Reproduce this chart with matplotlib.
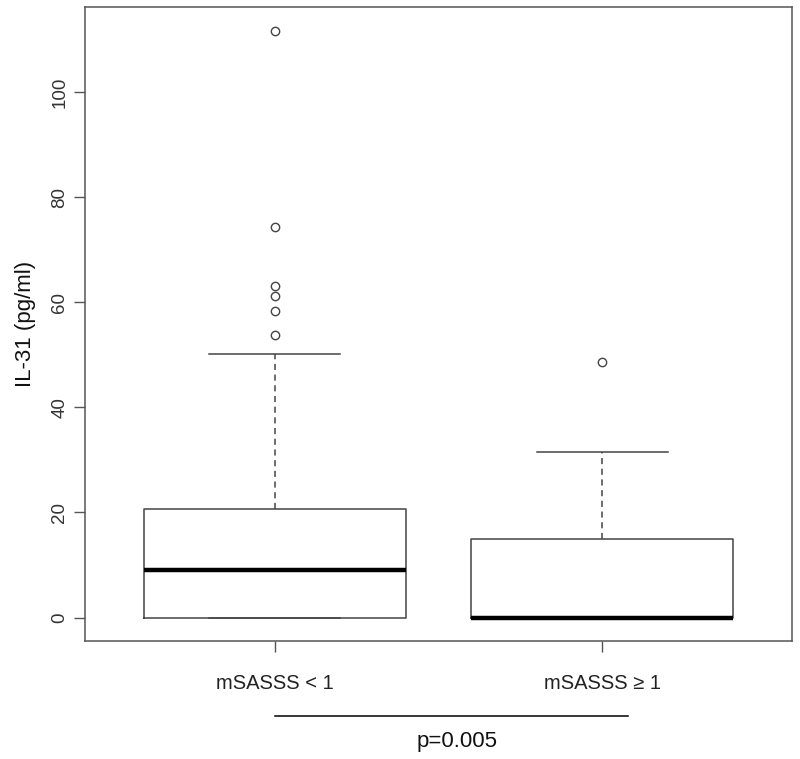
import matplotlib
matplotlib.use("Agg")
from matplotlib import pyplot as plt
import matplotlib.transforms as mtransforms

plt.rcParams['font.family'] = ['Liberation Sans', 'DejaVu Sans']

# values
groups = ['mSASSS < 1', 'mSASSS \u2265 1']
q1 = [0.0, 0.0]
median = [9.05, 0.0]
q3 = [20.7, 15.0]
whisker_lo = [0.0, 0.0]
whisker_hi = [50.2, 31.5]
outliers = [[111.7, 74.3, 63.1, 61.2, 58.3, 53.8], [48.6]]
yticks = [0, 20, 40, 60, 80, 100]
p_text = 'p=0.005'

stats = []
for i in range(len(groups)):
    stats.append(dict(med=median[i], q1=q1[i], q3=q3[i],
                      whislo=whisker_lo[i], whishi=whisker_hi[i],
                      fliers=outliers[i], label=groups[i]))

fig = plt.figure(figsize=(8, 7.59), dpi=100)
ax = fig.add_axes([85/800, 1 - 641/759, 707/800, 634/759])

edge = '#444444'
ax.bxp(stats, positions=[1, 2], widths=0.8, capwidths=0.4,
       boxprops=dict(color=edge, lw=1.1),
       medianprops=dict(color='black', lw=3.2, solid_capstyle='butt'),
       whiskerprops=dict(color=edge, lw=1.1, linestyle=(0, (4, 3))),
       capprops=dict(color=edge, lw=1.1),
       flierprops=dict(marker='o', markerfacecolor='none', markeredgecolor=edge,
                       markersize=6, markeredgewidth=1.0))

ax.set_xlim(0.42, 2.58)
ax.set_ylim(-4.47, 116.2)
ax.set_yticks(yticks)
ax.set_xticks([1, 2])
ax.set_xticklabels(groups)

for s in ax.spines.values():
    s.set_color('#555555')
    s.set_linewidth(1.1)

ax.tick_params(axis='y', length=8, width=1, color='#555555', pad=4,
               labelsize=13.5, labelcolor='#333333', labelrotation=90)
for lab in ax.get_yticklabels():
    lab.set_verticalalignment('center')
ax.tick_params(axis='x', length=8, width=1, color='#555555', pad=16,
               labelsize=14.5, labelcolor='#222222')

ax.set_ylabel('IL-31 (pg/ml)', fontsize=16, color='#111111', labelpad=11)

# significance bar below the axis
trans = mtransforms.blended_transform_factory(ax.transData, fig.transFigure)
ax.plot([1.0, 2.08], [1 - 716/759, 1 - 716/759], color='black', lw=1.1,
        transform=trans, clip_on=False)
fig.text(457/800, 1 - 742/759, p_text, ha='center', va='center',
         fontsize=16, color='#111111')

fig.savefig('out.png', dpi=100, facecolor='white')
